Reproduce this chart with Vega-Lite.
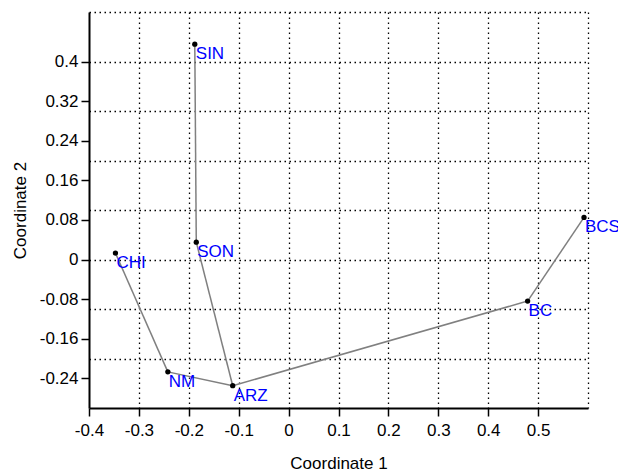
{
  "$schema": "https://vega.github.io/schema/vega-lite/v6.json",
  "autosize": {"type": "none"},
  "padding": {"left": 89, "top": 12, "right": 30, "bottom": 65},
  "width": 499,
  "height": 396,
  "background": "white",
  "config": {
    "view": {"stroke": null},
    "font": "Liberation Sans",
    "axis": {"labelFont": "Liberation Sans", "titleFont": "Liberation Sans"}
  },
  "datasets": {
    "points": [
      {"name": "SIN", "x": -0.188, "y": 0.435},
      {"name": "SON", "x": -0.185, "y": 0.035},
      {"name": "CHI", "x": -0.347, "y": 0.013},
      {"name": "NM", "x": -0.242, "y": -0.227},
      {"name": "ARZ", "x": -0.112, "y": -0.255},
      {"name": "BC", "x": 0.479, "y": -0.084},
      {"name": "BCS", "x": 0.592, "y": 0.085}
    ],
    "edges": [
      {"from": "SIN", "to": "SON"},
      {"from": "SON", "to": "ARZ"},
      {"from": "CHI", "to": "NM"},
      {"from": "NM", "to": "ARZ"},
      {"from": "ARZ", "to": "BC"},
      {"from": "BC", "to": "BCS"}
    ]
  },
  "layer": [
    {
      "data": {"name": "edges"},
      "transform": [
        {"lookup": "from", "from": {"data": {"name": "points"}, "key": "name", "fields": ["x", "y"]}, "as": ["x1", "y1"]},
        {"lookup": "to", "from": {"data": {"name": "points"}, "key": "name", "fields": ["x", "y"]}, "as": ["x2", "y2"]}
      ],
      "mark": {"type": "rule", "color": "#808080", "strokeWidth": 1.5},
      "encoding": {
        "x": {
          "field": "x1", "type": "quantitative",
          "scale": {"domain": [-0.4, 0.6], "nice": false, "zero": false},
          "axis": {
            "orient": "bottom", "title": null, "labels": false, "ticks": false, "domain": false,
            "grid": true, "values": [-0.3, -0.2, -0.1, 0, 0.1, 0.2, 0.3, 0.4, 0.5, 0.6],
            "gridColor": "black", "gridOpacity": 1, "gridWidth": 1.3, "gridDash": [1.5, 3.5]
          }
        },
        "y": {
          "field": "y1", "type": "quantitative",
          "scale": {"domain": [-0.3, 0.5], "nice": false, "zero": false},
          "axis": {
            "orient": "left", "title": null, "labels": false, "ticks": false, "domain": false,
            "grid": true, "values": [-0.2, -0.1, 0, 0.1, 0.2, 0.3, 0.4, 0.5],
            "gridColor": "black", "gridOpacity": 1, "gridWidth": 1.3, "gridDash": [1.5, 3.5]
          }
        },
        "x2": {"field": "x2"},
        "y2": {"field": "y2"}
      }
    },
    {
      "data": {"name": "points"},
      "layer": [
        {
          "mark": {"type": "point", "filled": true, "color": "black", "size": 28, "opacity": 1, "shape": "circle"},
          "encoding": {
            "x": {
              "field": "x", "type": "quantitative",
              "axis": {
                "orient": "bottom", "title": "Coordinate 1", "grid": false,
                "values": [-0.4, -0.3, -0.2, -0.1, 0, 0.1, 0.2, 0.3, 0.4, 0.5],
                "labelExpr": "replace(format(datum.value, '.2~f'), '−', '-')",
                "labelOverlap": false, "labelFlush": false,
                "labelFontSize": 17, "labelColor": "black", "labelPadding": 6,
                "tickSize": 8, "tickColor": "black", "tickWidth": 1.5,
                "domainColor": "black", "domainWidth": 2,
                "titleFontSize": 17, "titleFontWeight": "normal", "titleColor": "black",
                "titleY": 55, "titleBaseline": "middle"
              }
            },
            "y": {
              "field": "y", "type": "quantitative",
              "axis": {
                "orient": "left", "title": "Coordinate 2", "grid": false,
                "values": [-0.24, -0.16, -0.08, 0, 0.08, 0.16, 0.24, 0.32, 0.4],
                "labelExpr": "replace(format(datum.value, '.2~f'), '−', '-')",
                "labelOverlap": false, "labelFlush": false,
                "labelFontSize": 17, "labelColor": "black", "labelPadding": 3,
                "tickSize": 8, "tickColor": "black", "tickWidth": 1.5,
                "domainColor": "black", "domainWidth": 2,
                "titleFontSize": 17, "titleFontWeight": "normal", "titleColor": "black",
                "titleX": -69, "titleBaseline": "middle"
              }
            }
          }
        },
        {
          "mark": {"type": "text", "align": "left", "baseline": "top", "dx": 1, "dy": 2, "fontSize": 17, "color": "#0000ff", "font": "Liberation Sans"},
          "encoding": {
            "x": {"field": "x", "type": "quantitative"},
            "y": {"field": "y", "type": "quantitative"},
            "text": {"field": "name"}
          }
        }
      ]
    }
  ],
  "resolve": {"axis": {"x": "independent", "y": "independent"}}
}
